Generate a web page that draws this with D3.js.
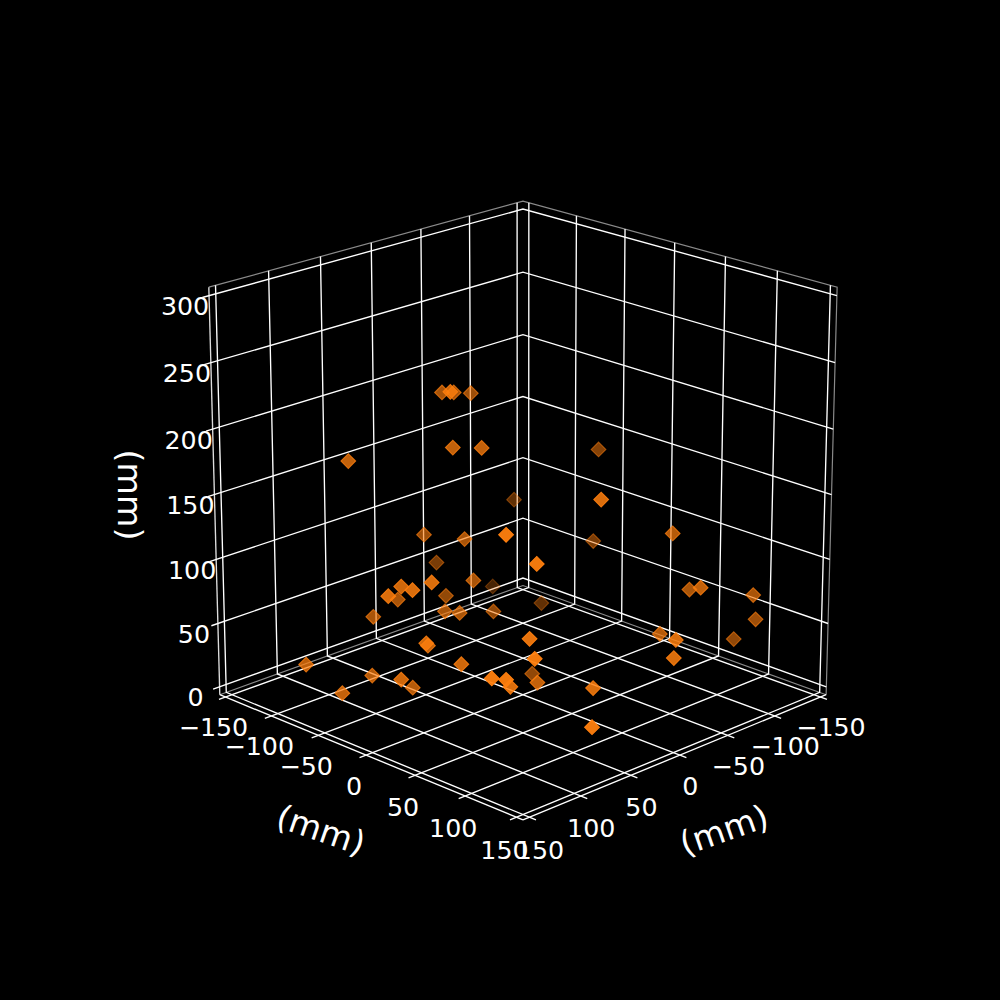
<!DOCTYPE html>
<html><head><meta charset="utf-8">
<script src="https://cdn.jsdelivr.net/npm/d3@7"></script>
<style>html,body{margin:0;padding:0;background:#000}svg{display:block}text{font-family:"DejaVu Sans";fill:#fff}</style>
</head><body><svg id="c" width="1000" height="1000"></svg>
<script>
const xs=[12,48,6,-16,43,29,98,-87,85,33,26,-8,75,103,29,-86,106,114,127,71,20,86,49,42,-2,-82,149,110,141,122,92,103,90,89,77,92,-11,41,116,109,82,41,75,-99,5,-94,-67,-79,-57,-111,-122,-121,-43,-8,-4];
const ys=[-71,-25,-65,-70,-28,-13,-78,-97,68,-69,-34,-99,88,12,-22,-119,-16,4,-7,-57,-60,-67,-31,-23,-33,-63,-70,-43,-41,0,-20,6,-6,27,83,103,-2,55,85,92,69,110,142,-21,82,-21,84,90,121,123,116,96,95,143,145];
const zs=[214,234,214,207,190,190,181,99,160,110,114,69,141,114,86,23,104,109,105,73,61,61,65,64,50,26,41,29,25,42,21,66,57,52,84,79,7,32,66,65,45,44,34,155,169,84,125,80,96,76,52,31,57,76,64];
const xyTicks=[-150,-100,-50,0,50,100,150];
const zTicks=[0,50,100,150,200,250,300];
const axisLabel="(mm)";
const tickFmt=t=>String(t).replace("-","\u2212");

const svg=d3.select("#c");
svg.append("rect").attr("width",1000).attr("height",1000).attr("fill","#000");
const sxy=d3.scaleLinear().domain([-150,150]).range([-.5,.5]);
const sz=d3.scaleLinear().domain([0,300]).range([-.5,.5]);
const elev=20*Math.PI/180, azim=45*Math.PI/180, dist=10;
const w=[Math.cos(elev)*Math.cos(azim),Math.cos(elev)*Math.sin(azim),Math.sin(elev)];
const u=[-Math.sin(azim),Math.cos(azim),0];
const v=[-Math.sin(elev)*Math.cos(azim),-Math.sin(elev)*Math.sin(azim),Math.cos(elev)];
const dot=(a,b)=>a[0]*b[0]+a[1]*b[1]+a[2]*b[2];
const px=d3.scaleLinear().domain([-.095,.09]).range([125,900]);
const py=d3.scaleLinear().domain([-.095,.09]).range([890,120]);
const depth=(x,y,z)=>dot([sxy(x),sxy(y),sz(z)],w);
function proj(x,y,z){const p=[sxy(x),sxy(y),sz(z)],d=dist-dot(p,w);return [px(dot(p,u)/d),py(dot(p,v)/d)];}
const pad=300/48,lo=-150-pad,hi=150+pad,zlo=0-pad,zhi=300+pad;
const line=d3.line();
const path=(pts,col,sw)=>svg.append("path").attr("d",line(pts.map(p=>proj(...p)))).attr("fill","none").attr("stroke",col).attr("stroke-width",sw).attr("stroke-linejoin","miter");
const paneCol="#8a8a8a",lw=1.35;
path([[lo,hi,zlo],[lo,hi,zhi],[lo,lo,zhi],[hi,lo,zhi]],paneCol,1.2);
path([[lo,hi,zlo],[lo,lo,zlo],[hi,lo,zlo]],paneCol,1.2);
path([[lo,hi,zlo],[hi,hi,zlo]],"#fff",lw);
path([[hi,lo,zlo],[hi,hi,zlo]],"#fff",lw);
path([[hi,lo,zlo],[hi,lo,zhi]],"#ddd",lw);
xyTicks.forEach(t=>{
  path([[t,hi+pad,zlo],[t,lo,zlo],[t,lo,zhi]],"#fff",lw);
  path([[hi+pad,t,zlo],[lo,t,zlo],[lo,t,zhi]],"#fff",lw);
});
zTicks.forEach(t=>path([[hi+pad,lo,t],[lo,lo,t],[lo,hi,t]],"#fff",lw));
const fs=25.3;
function lab(p,dx,dy,s){const q=proj(...p);svg.append("text").attr("x",q[0]+dx).attr("y",q[1]+dy).attr("text-anchor","middle").attr("dominant-baseline","central").attr("font-size",fs).text(s);}
const off=d3.scaleLinear().domain([-150,150]).range([30,33]);
xyTicks.forEach(t=>{
  lab([hi,t,zlo],-12,off(t),tickFmt(t));
  lab([t,hi,zlo],10.5,off(t),tickFmt(t));
});
zTicks.forEach(t=>lab([hi,lo,t],-24,11,tickFmt(t)));
const al=(x,y,r)=>svg.append("text").attr("transform",`translate(${x},${y}) rotate(${r})`).attr("text-anchor","middle").attr("dominant-baseline","central").attr("font-size",33.3).text(axisLabel);
al(321,830,19);al(724,830,-19);al(129,495,90);
const pts=d3.range(xs.length).map(i=>({x:xs[i],y:ys[i],z:zs[i],d:depth(xs[i],ys[i],zs[i])})).sort((a,b)=>a.d-b.d);
const alpha=d3.scaleLinear().domain(d3.extent(pts,p=>p.d)).range([.3,1]);
const sym=d3.symbol(d3.symbolSquare,108)();
svg.append("g").selectAll("path").data(pts).join("path").attr("d",sym)
 .attr("transform",p=>{const q=proj(p.x,p.y,p.z);return `translate(${q[0]+.5},${q[1]+.5}) rotate(45)`;})
 .attr("fill","#ff7f0e").attr("stroke","#ff7f0e").attr("stroke-width",1.1)
 .attr("fill-opacity",p=>alpha(p.d)*.95).attr("stroke-opacity",p=>alpha(p.d));
</script></body></html>
